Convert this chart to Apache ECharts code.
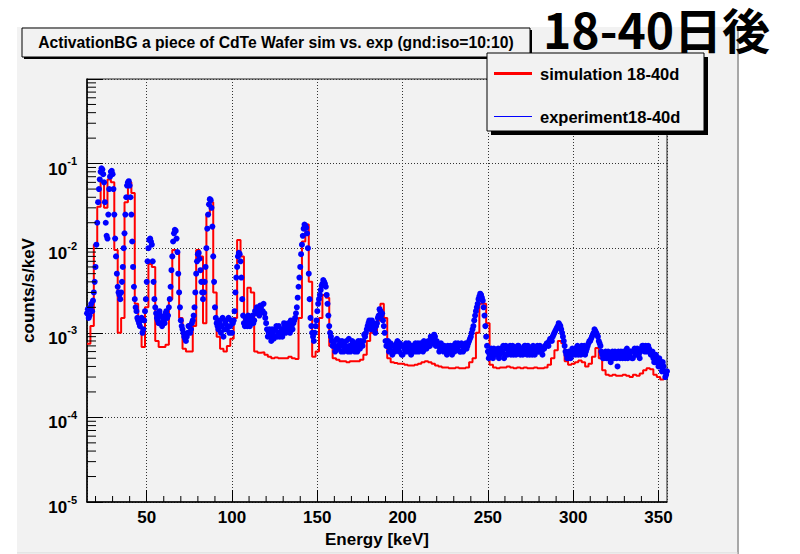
<!DOCTYPE html>
<html>
<head>
<meta charset="utf-8">
<title>ActivationBG CdTe</title>
<script src="https://cdn.jsdelivr.net/npm/echarts@6/dist/echarts.min.js"></script>
<style>
  html, body { margin: 0; padding: 0; background: #fff; }
  #main { width: 800px; height: 554px; }
</style>
</head>
<body>
<div id="main"></div>
<script>
// simulation histogram: 2 keV bins, first bin starts at 15 keV
const simBinLow = 15;
const simBinWidth = 2;
const simCounts = [
  7.4e-4, 1.2e-3, 1.1e-2, 3.1e-2, 6.0e-2, 3.0e-2, 6.5e-2, 6.0e-2, 9.5e-3, 1.0e-3,
  1.5e-3, 3.5e-2, 6.0e-2, 4.5e-2, 2.2e-3, 1.2e-3, 6.8e-4, 2.0e-3, 6.5e-3, 6.0e-3,
  8.0e-4, 6.8e-4, 6.8e-4, 7.2e-4, 2.5e-3, 9.5e-3, 9.0e-3, 1.5e-3, 6.5e-4, 6.0e-4,
  6.0e-4, 1.2e-3, 9.5e-3, 8.0e-3, 1.3e-3, 2.5e-2, 3.5e-2, 3.0e-3, 9.0e-4, 6.5e-4,
  6.0e-4, 7.0e-4, 8.5e-4, 1.5e-3, 1.25e-2, 8.0e-3, 1.3e-3, 3.4e-3, 3.0e-3, 6.0e-4,
  5.8e-4, 5.9e-4, 5.5e-4, 5.2e-4, 5.0e-4, 5.1e-4, 5.0e-4, 5.0e-4, 5.0e-4, 5.2e-4,
  5.0e-4, 4.9e-4, 1.5e-3, 1.2e-2, 1.9e-2, 4.0e-3, 5.2e-4, 6.0e-4, 1.5e-3, 2.8e-3,
  2.6e-3, 7.0e-4, 5.0e-4, 4.8e-4, 4.6e-4, 4.6e-4, 4.5e-4, 4.6e-4, 4.6e-4, 4.6e-4,
  4.8e-4, 5.5e-4, 8.0e-4, 1.0e-3, 1.0e-3, 1.4e-3, 2.2e-3, 1.5e-3, 5.0e-4, 4.5e-4,
  4.4e-4, 4.3e-4, 4.3e-4, 4.2e-4, 4.1e-4, 4.1e-4, 4.2e-4, 4.3e-4, 4.5e-4, 4.6e-4,
  4.5e-4, 4.3e-4, 4.1e-4, 4.0e-4, 3.9e-4, 3.9e-4, 3.8e-4, 3.8e-4, 3.9e-4, 3.8e-4,
  3.8e-4, 3.9e-4, 4.5e-4, 5.0e-4, 1.0e-3, 2.2e-3, 2.2e-3, 1.3e-3, 4.2e-4, 3.9e-4,
  3.8e-4, 3.9e-4, 3.9e-4, 4.0e-4, 3.9e-4, 3.8e-4, 3.9e-4, 3.8e-4, 3.9e-4, 3.8e-4,
  3.8e-4, 3.9e-4, 3.8e-4, 3.8e-4, 3.9e-4, 4.2e-4, 5.0e-4, 6.2e-4, 8.0e-4, 7.5e-4,
  4.6e-4, 4.2e-4, 4.3e-4, 4.5e-4, 4.7e-4, 4.5e-4, 4.0e-4, 4.3e-4, 5.2e-4, 6.6e-4,
  5.0e-4, 3.6e-4, 3.2e-4, 3.1e-4, 3.2e-4, 3.1e-4, 3.1e-4, 3.2e-4, 3.1e-4, 3.0e-4,
  3.2e-4, 3.1e-4, 3.3e-4, 3.6e-4, 3.8e-4, 3.7e-4, 3.2e-4, 3.0e-4, 2.8e-4, 2.9e-4
];

// experiment points at whole keV, from 15 keV
const expStart = 15;
const expStep = 1;
const expCounts = [
  17e-4, 15e-4, 20e-4, 18e-4, 30e-4, 60e-4, 200e-4, 500e-4, 800e-4, 850e-4,
  600e-4, 200e-4, 130e-4, 500e-4, 800e-4, 750e-4, 250e-4, 80e-4, 35e-4, 28e-4,
  30e-4, 60e-4, 150e-4, 400e-4, 600e-4, 550e-4, 250e-4, 60e-4, 25e-4, 18e-4,
  14e-4, 12e-4, 15e-4, 11e-4, 18e-4, 40e-4, 100e-4, 130e-4, 110e-4, 40e-4,
  20e-4, 15e-4, 13e-4, 16e-4, 12e-4, 14e-4, 17e-4, 15e-4, 20e-4, 35e-4,
  80e-4, 150e-4, 160e-4, 90e-4, 30e-4, 14e-4, 11e-4, 9e-4, 8e-4, 10e-4,
  12e-4, 11e-4, 14e-4, 20e-4, 50e-4, 85e-4, 75e-4, 40e-4, 25e-4, 40e-4,
  100e-4, 250e-4, 380e-4, 300e-4, 80e-4, 20e-4, 13e-4, 11e-4, 14e-4, 12e-4,
  9e-4, 13e-4, 11e-4, 15e-4, 12e-4, 10e-4, 14e-4, 30e-4, 60e-4, 88e-4,
  70e-4, 25e-4, 13e-4, 15e-4, 12e-4, 14e-4, 13e-4, 16e-4, 14e-4, 17e-4,
  19e-4, 16e-4, 20e-4, 18e-4, 17e-4, 13e-4, 9e-4, 11e-4, 8e-4, 10e-4,
  9e-4, 12e-4, 10e-4, 9e-4, 11e-4, 10e-4, 12e-4, 11e-4, 13e-4, 10e-4,
  12e-4, 13e-4, 15e-4, 20e-4, 35e-4, 60e-4, 110e-4, 170e-4, 185e-4, 150e-4,
  50e-4, 15e-4, 10e-4, 8e-4, 12e-4, 18e-4, 25e-4, 32e-4, 38e-4, 40e-4,
  35e-4, 22e-4, 12e-4, 9e-4, 7e-4, 8e-4, 6.5e-4, 7e-4, 8e-4, 6e-4,
  7.5e-4, 6.5e-4, 8e-4, 6e-4, 7e-4, 6.5e-4, 7.5e-4, 6e-4, 7e-4, 8e-4,
  6.5e-4, 7.5e-4, 8e-4, 9e-4, 11e-4, 13e-4, 12e-4, 14e-4, 12e-4, 10e-4,
  13e-4, 16e-4, 18e-4, 17e-4, 12e-4, 8e-4, 7e-4, 6e-4, 7.5e-4, 5.5e-4,
  7e-4, 6.5e-4, 8e-4, 6e-4, 7e-4, 5.5e-4, 6.5e-4, 7.5e-4, 6e-4, 7e-4,
  5.5e-4, 6.5e-4, 7e-4, 6e-4, 7.5e-4, 6.5e-4, 7e-4, 6e-4, 7.5e-4, 6.5e-4,
  8e-4, 7e-4, 8.5e-4, 7.5e-4, 9e-4, 8e-4, 7e-4, 6.5e-4, 7e-4, 6e-4,
  6.5e-4, 5.5e-4, 6e-4, 7e-4, 5.5e-4, 6.5e-4, 7.5e-4, 6.5e-4, 7e-4, 6e-4,
  7e-4, 6.5e-4, 7.5e-4, 7e-4, 8e-4, 9e-4, 11e-4, 14e-4, 18e-4, 22e-4,
  27e-4, 28e-4, 24e-4, 16e-4, 9e-4, 6e-4, 5.5e-4, 6.5e-4, 5e-4, 6e-4,
  5.5e-4, 6.5e-4, 5.5e-4, 6e-4, 7e-4, 5.5e-4, 6.5e-4, 6e-4, 7e-4, 6e-4,
  5.5e-4, 6.5e-4, 6e-4, 7e-4, 5.5e-4, 6.5e-4, 6e-4, 7e-4, 5.5e-4, 6.5e-4,
  6e-4, 5.5e-4, 6.5e-4, 6e-4, 7e-4, 6e-4, 6.5e-4, 5.5e-4, 6.5e-4, 7e-4,
  7.5e-4, 8e-4, 8.5e-4, 9e-4, 10e-4, 11e-4, 12e-4, 12.5e-4, 11e-4, 9e-4,
  7e-4, 5.5e-4, 5e-4, 5.5e-4, 6e-4, 5.5e-4, 6.5e-4, 6e-4, 5.5e-4, 6.5e-4,
  7e-4, 6e-4, 5.5e-4, 6.5e-4, 7.5e-4, 8e-4, 9e-4, 10e-4, 10.5e-4, 9.5e-4,
  8e-4, 7e-4, 5.5e-4, 5e-4, 6e-4, 5e-4, 5.5e-4, 4.5e-4, 6e-4, 5e-4,
  5.5e-4, 4e-4, 5.5e-4, 6e-4, 5e-4, 5.5e-4, 6e-4, 5e-4, 5.5e-4, 6e-4,
  5e-4, 6.5e-4, 5.5e-4, 6e-4, 5e-4, 6.5e-4, 7e-4, 6e-4, 6.5e-4, 7e-4,
  6e-4, 5.5e-4, 5e-4, 4.5e-4, 5e-4, 4e-4, 4.5e-4, 3.5e-4, 4e-4, 3e-4,
  3.5e-4
];

// experiment points at the half keV, from 15.5 keV
const expHalfStart = 15.5;
const expHalfCounts = [
  19e-4, 16e-4, 22e-4, 24e-4, 40e-4, 110e-4, 350e-4, 650e-4, 880e-4, 750e-4,
  350e-4, 140e-4, 250e-4, 700e-4, 820e-4, 500e-4, 130e-4, 50e-4, 30e-4, 25e-4,
  40e-4, 100e-4, 250e-4, 550e-4, 620e-4, 400e-4, 120e-4, 35e-4, 20e-4, 15e-4,
  13e-4, 14e-4, 10e-4, 14e-4, 25e-4, 70e-4, 125e-4, 120e-4, 70e-4, 25e-4,
  17e-4, 14e-4, 18e-4, 13e-4, 15e-4, 13e-4, 18e-4, 16e-4, 25e-4, 55e-4,
  120e-4, 165e-4, 130e-4, 50e-4, 20e-4, 12e-4, 10e-4, 8.5e-4, 9e-4, 12e-4,
  10e-4, 13e-4, 16e-4, 30e-4, 70e-4, 88e-4, 55e-4, 30e-4, 30e-4, 60e-4,
  170e-4, 330e-4, 370e-4, 180e-4, 40e-4, 15e-4, 12e-4, 13e-4, 10e-4, 15e-4,
  11e-4, 14e-4, 12e-4, 10e-4, 14e-4, 13e-4, 18e-4, 45e-4, 80e-4, 85e-4,
  45e-4, 16e-4, 12e-4, 14e-4, 16e-4, 12e-4, 15e-4, 13e-4, 18e-4, 20e-4,
  17e-4, 21e-4, 18e-4, 22e-4, 15e-4, 11e-4, 10e-4, 9e-4, 11e-4, 8.5e-4,
  11e-4, 9e-4, 12e-4, 10e-4, 9e-4, 13e-4, 10e-4, 12e-4, 11e-4, 14e-4,
  11e-4, 14e-4, 17e-4, 26e-4, 45e-4, 85e-4, 140e-4, 190e-4, 175e-4, 100e-4,
  25e-4, 12e-4, 9e-4, 10e-4, 14e-4, 22e-4, 28e-4, 36e-4, 42e-4, 38e-4,
  28e-4, 16e-4, 10e-4, 8e-4, 7.5e-4, 6e-4, 8.5e-4, 6.5e-4, 7e-4, 8e-4,
  6e-4, 7e-4, 6.5e-4, 8.5e-4, 6e-4, 8e-4, 6.5e-4, 7.5e-4, 6e-4, 7e-4,
  8e-4, 7e-4, 9.5e-4, 10e-4, 12e-4, 14e-4, 11e-4, 13e-4, 11e-4, 12e-4,
  15e-4, 19e-4, 16e-4, 14e-4, 10e-4, 7e-4, 8e-4, 6.5e-4, 6e-4, 7e-4,
  6e-4, 7.5e-4, 6.5e-4, 7.5e-4, 5.5e-4, 7e-4, 6e-4, 6.5e-4, 7.5e-4, 6e-4,
  7e-4, 6e-4, 7.5e-4, 6.5e-4, 6e-4, 7.5e-4, 6.5e-4, 8e-4, 7e-4, 7.5e-4,
  7e-4, 9e-4, 8e-4, 9.5e-4, 7e-4, 7.5e-4, 6e-4, 7.5e-4, 6.5e-4, 7e-4,
  6e-4, 7e-4, 6.5e-4, 6e-4, 7e-4, 6e-4, 6.5e-4, 7.5e-4, 6e-4, 7.5e-4,
  6e-4, 7e-4, 6.5e-4, 7.5e-4, 8.5e-4, 10e-4, 12e-4, 16e-4, 20e-4, 25e-4,
  29e-4, 26e-4, 20e-4, 12e-4, 7e-4, 5e-4, 6e-4, 5.5e-4, 6.5e-4, 5.5e-4,
  6e-4, 5e-4, 6.5e-4, 6e-4, 5e-4, 7e-4, 5.5e-4, 6.5e-4, 5.5e-4, 7e-4,
  6e-4, 5.5e-4, 7e-4, 6e-4, 6.5e-4, 5.5e-4, 7e-4, 6e-4, 7e-4, 5.5e-4,
  6.5e-4, 7e-4, 5.5e-4, 6.5e-4, 6e-4, 7e-4, 6e-4, 6.5e-4, 7e-4, 7.5e-4,
  7e-4, 8.5e-4, 8e-4, 9.5e-4, 10.5e-4, 11.5e-4, 13e-4, 12e-4, 10e-4, 8e-4,
  6e-4, 5e-4, 6e-4, 5e-4, 6.5e-4, 6e-4, 5.5e-4, 7e-4, 6e-4, 5.5e-4,
  6.5e-4, 7e-4, 6e-4, 7e-4, 8e-4, 8.5e-4, 9.5e-4, 11e-4, 10e-4, 9e-4,
  7.5e-4, 6e-4, 5e-4, 5.5e-4, 5e-4, 6e-4, 5e-4, 5.5e-4, 5e-4, 6e-4,
  5e-4, 6e-4, 5e-4, 5.5e-4, 6e-4, 5e-4, 6.5e-4, 5.5e-4, 6e-4, 5e-4,
  6e-4, 5.5e-4, 6.5e-4, 5.5e-4, 6e-4, 7e-4, 6.5e-4, 7e-4, 6e-4, 6.5e-4,
  5.5e-4, 6e-4, 4.5e-4, 5.5e-4, 4.5e-4, 5e-4, 4e-4, 4.5e-4, 3.5e-4, 3.2e-4
];

// axis ticks as ROOT draws them
const xMinorTicks = [20, 30, 40, 60, 70, 80, 90, 110, 120, 130, 140, 160, 170, 180, 190,
  210, 220, 230, 240, 260, 270, 280, 290, 310, 320, 330, 340];
const yDecades = [1e-5, 1e-4, 1e-3, 1e-2, 1e-1];
const yMantissas = [2, 3, 4, 5, 6, 7, 8, 9];

const xMin = 15, xMax = 355, yMin = 1e-5, yMax = 1;
const FONT = 'Liberation Sans, Arial, Helvetica, sans-serif';

const simData = simCounts.map((v, i) => [simBinLow + i * simBinWidth, v]);
simData.push([simBinLow + simCounts.length * simBinWidth, simCounts[simCounts.length - 1]]);
const expData = expCounts.map((v, i) => [expStart + i * expStep, v])
  .concat(expHalfCounts.map((v, i) => [expHalfStart + i * expStep, v]));

const yMinorTicks = [];
for (const d of yDecades) {
  for (const m of yMantissas) yMinorTicks.push(m * d);
}

function tickItem(dx, dy) {
  return function (params, api) {
    const p = api.coord([api.value(0), api.value(1)]);
    return {
      type: 'line',
      shape: { x1: p[0], y1: p[1], x2: p[0] + dx, y2: p[1] + dy },
      style: { stroke: '#000', lineWidth: 1 }
    };
  };
}

const chart = echarts.init(document.getElementById('main'), null, { renderer: 'svg' });

chart.setOption({
  animation: false,
  backgroundColor: '#fff',
  title: [
    {
      text: 'ActivationBG a piece of CdTe Wafer sim vs. exp (gnd:iso=10:10)',
      left: 276, top: 34, textAlign: 'center', padding: 0,
      textStyle: { fontFamily: FONT, fontWeight: 'bold', fontSize: 15.7, color: '#000' }
    },
    {
      text: '18-40日後',
      left: 543, top: 4, padding: 0,
      textStyle: { fontFamily: 'Noto Sans CJK JP', fontWeight: 'bold', fontSize: 48, color: '#000' }
    }
  ],
  graphic: [
    // pad background
    { type: 'rect', z: -10, shape: { x: 17, y: 27, width: 721, height: 526 }, style: { fill: '#f2f2f2' } },
    { type: 'line', z: -9, shape: { x1: 738, y1: 27, x2: 738, y2: 554 }, style: { stroke: '#a8a8a8', lineWidth: 2 } },
    { type: 'line', z: -9, shape: { x1: 17, y1: 553, x2: 738, y2: 553 }, style: { stroke: '#d8d8d8', lineWidth: 1 } },
    // title box with shadow
    { type: 'rect', z: 4, shape: { x: 24, y: 30, width: 508, height: 29 }, style: { fill: '#000' } },
    { type: 'rect', z: 5, shape: { x: 22, y: 28, width: 508, height: 29 }, style: { fill: '#f2f2f2', stroke: '#000', lineWidth: 1 } },
    // legend box with shadow
    { type: 'rect', z: 9, shape: { x: 491, y: 57, width: 217, height: 78 }, style: { fill: '#000' } },
    { type: 'rect', z: 10, shape: { x: 487, y: 53, width: 217, height: 78 }, style: { fill: '#f2f2f2', stroke: '#000', lineWidth: 1 } }
  ],
  legend: {
    orient: 'vertical', left: 487, top: 53, z: 11,
    padding: [12, 10, 12, 7], itemGap: 26, itemWidth: 38, itemHeight: 14,
    selectedMode: false,
    textStyle: { fontFamily: FONT, fontWeight: 'bold', fontSize: 16.5, color: '#000', padding: [0, 0, 0, 3] },
    data: [
      { name: 'simulation 18-40d', icon: 'path://M0 0H38V3H0Z', itemStyle: { color: '#ff0000' } },
      { name: 'experiment18-40d', icon: 'path://M0 0H38V1H0Z', itemStyle: { color: '#0000ff' } }
    ]
  },
  grid: {
    left: 87, right: 133, top: 79, bottom: 52,
    show: true, borderColor: '#222', borderWidth: 1, backgroundColor: 'transparent'
  },
  xAxis: {
    type: 'value', min: xMin, max: xMax,
    name: 'Energy [keV]', nameLocation: 'middle', nameGap: 19,
    nameTextStyle: { fontFamily: FONT, fontWeight: 'bold', fontSize: 17, color: '#000' },
    axisLine: { show: true, onZero: false, lineStyle: { color: '#000', width: 1.5 } },
    axisTick: { show: true, inside: true, length: 12, lineStyle: { color: '#000', width: 1 } },
    axisLabel: {
      showMinLabel: false, showMaxLabel: false, margin: 7,
      fontFamily: FONT, fontWeight: 'bold', fontSize: 17, color: '#000'
    },
    splitLine: { show: true, lineStyle: { type: [1, 2], color: '#333', width: 1 } }
  },
  yAxis: {
    type: 'log', logBase: 10, min: yMin, max: yMax,
    name: 'counts/s/keV', nameLocation: 'middle', nameGap: 38,
    nameTextStyle: { fontFamily: FONT, fontWeight: 'bold', fontSize: 17, color: '#000' },
    axisLine: { show: true, lineStyle: { color: '#000', width: 1.5 } },
    axisTick: { show: true, inside: true, length: 16, lineStyle: { color: '#000', width: 1 } },
    axisLabel: {
      margin: 10, padding: [6, 0, 0, 0],
      formatter: function (v) {
        const e = Math.round(Math.log10(v));
        return e === 0 ? '' : '{b|10}{s|' + e + '}';
      },
      rich: {
        b: { fontFamily: FONT, fontWeight: 'bold', fontSize: 17, color: '#000', lineHeight: 22, verticalAlign: 'bottom' },
        s: { fontFamily: FONT, fontWeight: 'bold', fontSize: 11, color: '#000', lineHeight: 12, verticalAlign: 'top' }
      }
    },
    splitLine: { show: true, lineStyle: { type: [1, 2], color: '#333', width: 1 } }
  },
  series: [
    {
      name: 'simulation 18-40d', type: 'line', step: 'end',
      symbol: 'none', showSymbol: false, data: simData, z: 2,
      itemStyle: { color: '#ff0000' },
      lineStyle: { color: '#ff0000', width: 2 }
    },
    {
      name: 'experiment18-40d', type: 'scatter', symbol: 'circle', symbolSize: 6,
      data: expData, z: 3,
      itemStyle: { color: '#0000ff', opacity: 1 }
    },
    {
      type: 'custom', silent: true, z: 4,
      data: xMinorTicks.map(v => [v, yMin]),
      renderItem: tickItem(0, -6)
    },
    {
      type: 'custom', silent: true, z: 4,
      data: yMinorTicks.map(v => [xMin, v]),
      renderItem: tickItem(9, 0)
    }
  ]
});
</script>
</body>
</html>
